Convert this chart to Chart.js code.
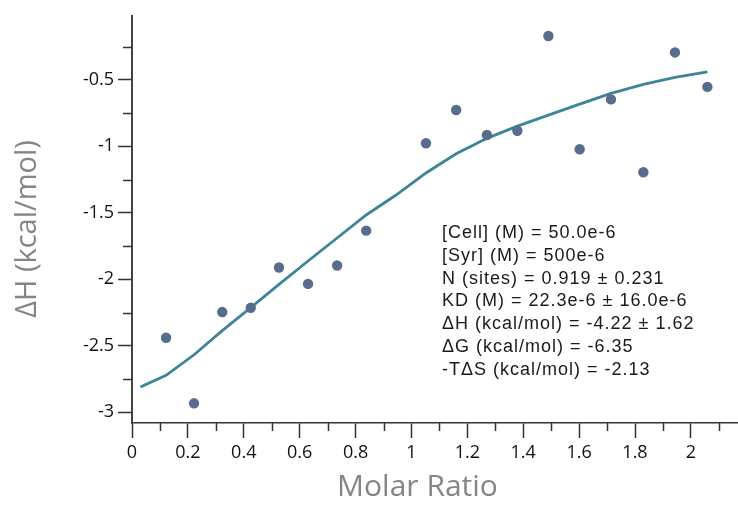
<!DOCTYPE html>
<html>
<head>
<meta charset="utf-8">
<script src="https://cdn.jsdelivr.net/npm/chart.js@4"></script>
<style>
  html, body { margin: 0; padding: 0; background: #fff; }
  #wrap { width: 738px; height: 505px; }
</style>
</head>
<body>
<div id="wrap"><canvas id="itc"></canvas></div>
<script>
// injection data (molar ratio vs integrated heat)
const ratio = [0.122, 0.222, 0.323, 0.425, 0.526, 0.630, 0.734, 0.838, 1.052, 1.160,
               1.270, 1.379, 1.490, 1.602, 1.714, 1.830, 1.943, 2.059];
const heat = [-2.439, -2.932, -2.246, -2.214, -1.911, -2.034, -1.896, -1.634, -0.977, -0.727,
              -0.915, -0.883, -0.170, -1.022, -0.647, -1.195, -0.294, -0.553];

// fitted binding curve
const fitRatio = [0.030, 0.122, 0.222, 0.323, 0.425, 0.526, 0.630, 0.734, 0.838, 0.945,
                  1.052, 1.160, 1.270, 1.379, 1.490, 1.602, 1.714, 1.830, 1.943, 2.059];
const fitHeat = [-2.809, -2.722, -2.567, -2.386, -2.212, -2.038, -1.862, -1.689, -1.516, -1.366,
                 -1.200, -1.056, -0.940, -0.848, -0.765, -0.683, -0.602, -0.534, -0.482, -0.440];

const fitLines = [
    "[Cell] (M) = 50.0e-6",
    "[Syr] (M) = 500e-6",
    "N (sites) = 0.919 \u00b1 0.231",
    "KD (M) = 22.3e-6 \u00b1 16.0e-6",
    "\u0394H (kcal/mol) = -4.22 \u00b1 1.62",
    "\u0394G (kcal/mol) = -6.35",
    "-T\u0394S (kcal/mol) = -2.13"
];
const xTitle = "Molar Ratio";
const yTitle = "\u0394H (kcal/mol)";

const xLabelStep = 0.2;
const yLabelStep = 0.5;

function isStep(v, step) {
    const r = v / step;
    return Math.abs(r - Math.round(r)) < 1e-6;
}

// short minor ticks, axis titles and fit results text
const extras = {
    id: "extras",
    afterDraw(chart) {
        const ctx = chart.ctx;
        const xs = chart.scales.x;
        const ys = chart.scales.y;
        ctx.save();
        ctx.strokeStyle = "#333";
        ctx.lineWidth = 1.5;
        xs.ticks.forEach(t => {
            if (isStep(t.value, xLabelStep)) return;
            const px = Math.round(xs.getPixelForValue(t.value)) + 0.5;
            ctx.beginPath();
            ctx.moveTo(px, xs.top);
            ctx.lineTo(px, xs.top + 8);
            ctx.stroke();
        });
        ys.ticks.forEach(t => {
            if (isStep(t.value, yLabelStep)) return;
            const py = Math.round(ys.getPixelForValue(t.value)) + 0.5;
            ctx.beginPath();
            ctx.moveTo(ys.right - 9, py);
            ctx.lineTo(ys.right, py);
            ctx.stroke();
        });

        // axis titles
        ctx.fillStyle = "#858585";
        ctx.textAlign = "center";
        ctx.textBaseline = "middle";
        ctx.font = "30px 'Open Sans', sans-serif";
        ctx.fillText(xTitle, 417.5, 487);
        ctx.save();
        ctx.translate(28, 229);
        ctx.rotate(-Math.PI / 2);
        ctx.font = "29px 'Open Sans', sans-serif";
        ctx.fillText(yTitle, 0, 0);
        ctx.restore();

        ctx.fillStyle = "#1a1a1a";
        ctx.font = "18px 'Liberation Sans', Arial, sans-serif";
        ctx.letterSpacing = "1px";
        ctx.textBaseline = "middle";
        ctx.textAlign = "left";
        fitLines.forEach((s, i) => {
            ctx.fillText(s, 442, 233 + i * 22.8);
        });
        ctx.restore();
    }
};

new Chart(document.getElementById("itc"), {
    type: "scatter",
    data: {
        datasets: [{
            label: "data",
            data: ratio.map((r, i) => ({ x: r, y: heat[i] })),
            backgroundColor: "#586c8e",
            borderWidth: 0,
            pointRadius: 5.2,
        }, {
            label: "fit",
            data: fitRatio.map((r, i) => ({ x: r, y: fitHeat[i] })),
            showLine: true,
            borderColor: "#3e8498",
            borderWidth: 2.8,
            pointRadius: 0,
            tension: 0,
        }]
    },
    plugins: [extras],
    options: {
        responsive: true,
        maintainAspectRatio: false,
        animation: false,
        layout: {
            autoPadding: false,
            padding: { top: 16, right: 1, left: 0, bottom: 0 },
        },
        plugins: {
            legend: { display: false },
            tooltip: { enabled: false },
        },
        scales: {
            x: {
                type: "linear",
                min: 0,
                max: 2.165,
                afterFit(scale) {
                    scale.height = 82;
                    scale.paddingLeft = 0;
                    scale.paddingRight = 0;
                },
                border: { color: "#333", width: 1.5 },
                grid: {
                    drawOnChartArea: false,
                    tickLength: 15,
                    tickWidth: 1.5,
                    tickColor: c => isStep(c.tick.value, xLabelStep) ? "#333" : "rgba(0,0,0,0)",
                },
                ticks: {
                    stepSize: 0.1,
                    includeBounds: false,
                    autoSkip: false,
                    maxRotation: 0,
                    padding: 4,
                    color: "#111",
                    font: { family: "'Open Sans', sans-serif", size: 18 },
                    callback: v => isStep(v, xLabelStep) ? String(Math.round(v * 10) / 10) : "",
                },
                title: { display: false },
            },
            y: {
                type: "linear",
                min: -3.08,
                max: -0.02,
                afterFit(scale) { scale.width = 132; },
                border: { color: "#444", width: 2 },
                grid: {
                    drawOnChartArea: false,
                    tickLength: 14,
                    tickWidth: 1.5,
                    tickColor: c => isStep(c.tick.value, yLabelStep) ? "#333" : "rgba(0,0,0,0)",
                },
                ticks: {
                    stepSize: 0.25,
                    includeBounds: false,
                    autoSkip: false,
                    padding: 4,
                    color: "#111",
                    font: { family: "'Open Sans', sans-serif", size: 18 },
                    callback: v => isStep(v, yLabelStep) ? String(Math.round(v * 10) / 10) : "",
                },
                title: { display: false },
            }
        }
    }
});
</script>
</body>
</html>
